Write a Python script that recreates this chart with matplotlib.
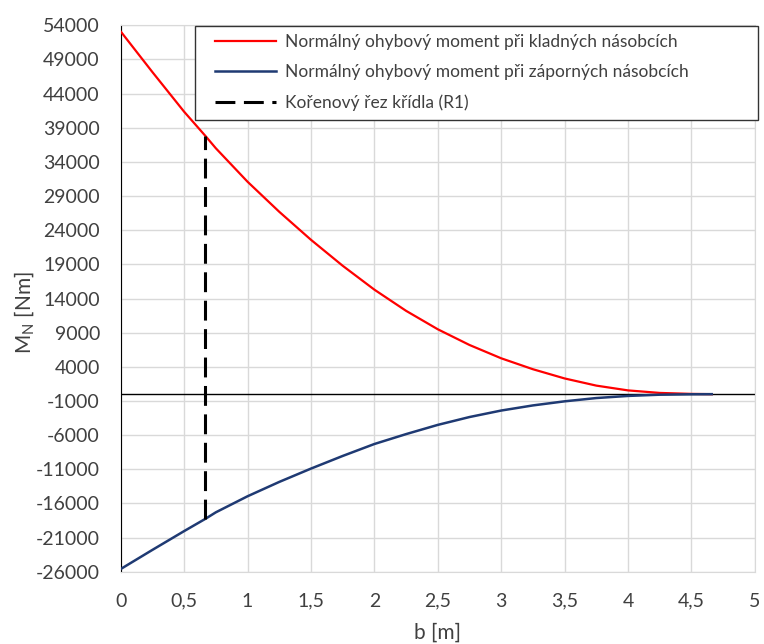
import numpy as np
import matplotlib.pyplot as plt
from matplotlib.patches import Rectangle
from matplotlib.ticker import FuncFormatter

# span positions [m] and bending moments [Nm]
b = [0, 0.25, 0.5, 0.668, 0.75, 1.0, 1.25, 1.5, 1.75, 2.0, 2.25, 2.5,
     2.75, 3.0, 3.25, 3.5, 3.75, 4.0, 4.25, 4.5, 4.66]
m_pos = [53100, 47150, 41350, 37800, 36000, 31100, 26700, 22600, 18800,
         15300, 12200, 9500, 7200, 5250, 3650, 2300, 1250, 550, 180, 40, 0]
m_neg = [-25600, -22800, -20050, -18250, -17300, -14950, -12850, -10900,
         -9050, -7300, -5850, -4500, -3350, -2400, -1650, -1050, -570,
         -260, -80, -15, 0]

# wing root section (R1)
root_b = 0.668
root_m = [-18250, 37800]

labels = [
    "Normálný ohybový moment při kladných násobcích",
    "Normálný ohybový moment při záporných násobcích",
    "Kořenový řez křídla (R1)",
]

plt.rcParams['font.family'] = ['Lato', 'DejaVu Sans']
plt.rcParams['axes.unicode_minus'] = False
text_col = '#404040'


def comma(x, pos):
    return f"{x:g}".replace('.', ',')


def main():
    fig = plt.figure(figsize=(7.64, 6.44), dpi=100)
    ax = fig.add_axes([0.158, 0.1122, 0.830, 0.8485])

    ax.plot(b, m_pos, color='#ff0000', lw=1.6, label=labels[0], zorder=3)
    ax.plot(b, m_neg, color='#1f3a73', lw=1.8, label=labels[1], zorder=3)
    ax.plot([root_b, root_b], root_m, color='black', lw=2.2,
            dashes=(6.5, 2.8), label=labels[2], zorder=3)
    ax.axhline(0, color='black', lw=1.0, zorder=2)

    ax.set_xlim(0, 5)
    ax.set_ylim(-26000, 54000)
    ax.set_xticks(np.arange(0, 5.01, 0.5))
    ax.set_yticks(np.arange(-26000, 54001, 5000))
    ax.xaxis.set_major_formatter(FuncFormatter(comma))
    ax.grid(True, color='#d9d9d9', lw=1.0, zorder=0)
    ax.set_axisbelow(True)

    for side in ['top', 'right', 'bottom']:
        ax.spines[side].set_color('#d9d9d9')
    ax.spines['left'].set_color('black')
    ax.tick_params(length=0, labelsize=14, colors=text_col, pad=15)

    ax.set_xlabel('b [m]', fontsize=15, color=text_col, labelpad=9.5)
    ax.set_ylabel('M$_\\mathregular{N}$ [Nm]', fontsize=15, color=text_col,
                  labelpad=-1, y=0.474)

    # legend frame drawn separately so the entries can sit with a wide margin
    frame = Rectangle((0.1172, 0.8267), 0.888, 0.1723, transform=ax.transAxes,
                      facecolor='white', edgecolor='#333333', lw=1.0,
                      clip_on=False, zorder=4)
    ax.add_patch(frame)
    leg = ax.legend(loc='upper left', bbox_to_anchor=(0.1487, 0.984),
                    fontsize=12.5, frameon=False, handlelength=3.5,
                    handletextpad=0.52, borderpad=0, labelspacing=0.83,
                    borderaxespad=0)
    leg.set_zorder(5)
    for t in leg.get_texts():
        t.set_color(text_col)

    fig.savefig('out.png', dpi=100)


if __name__ == "__main__":
    main()
